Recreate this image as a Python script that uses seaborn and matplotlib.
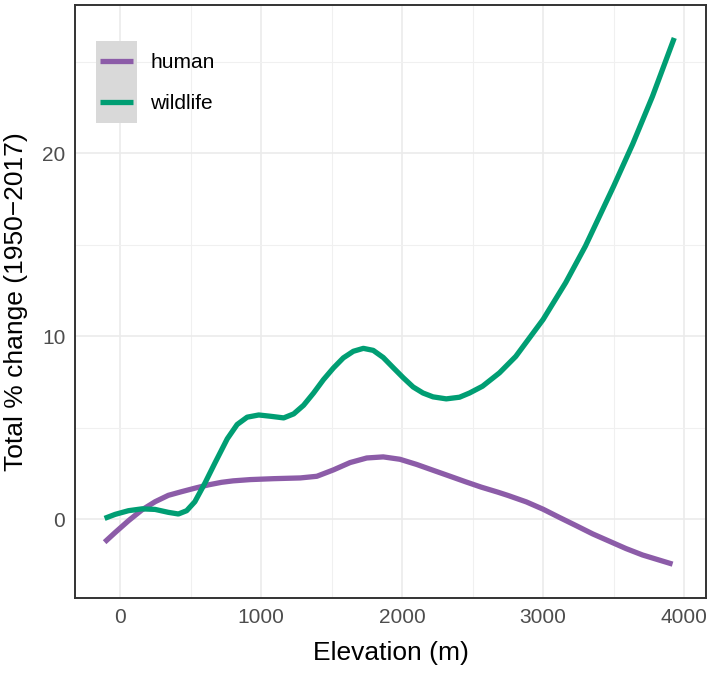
import matplotlib
matplotlib.use("Agg")
import matplotlib.pyplot as plt
from matplotlib.patches import Rectangle
from matplotlib.lines import Line2D
from matplotlib.legend_handler import HandlerBase
from matplotlib.ticker import MultipleLocator
import pandas as pd
import seaborn as sns

# ---- data ----
human_x = [-110, -35, 59, 154, 248, 342, 436, 530, 625, 719, 801, 924, 1089,
           1278, 1395, 1513, 1631, 1749, 1866, 1984, 2102, 2219, 2337, 2450,
           2560, 2680, 2752, 2881, 3000, 3116, 3235, 3352, 3470, 3588, 3705,
           3820, 3918]
human_y = [-1.25, -0.72, -0.08, 0.51, 0.96, 1.31, 1.51, 1.70, 1.88, 2.02, 2.10,
           2.17, 2.22, 2.26, 2.35, 2.70, 3.10, 3.35, 3.41, 3.28, 3.00, 2.68,
           2.36, 2.05, 1.76, 1.48, 1.30, 0.95, 0.55, 0.10, -0.35, -0.80, -1.20,
           -1.60, -1.95, -2.22, -2.45]

wild_x = [-110, -35, 59, 154, 248, 342, 413, 472, 530, 601, 672, 760, 830, 901,
          983, 1066, 1160, 1231, 1301, 1372, 1442, 1513, 1583, 1654, 1725, 1795,
          1866, 1936, 2007, 2078, 2148, 2219, 2313, 2407, 2478, 2570, 2690, 2806,
          3000, 3160, 3300, 3500, 3635, 3775, 3930]
wild_y = [0.05, 0.27, 0.47, 0.57, 0.54, 0.38, 0.29, 0.47, 0.96, 1.97, 3.07, 4.40,
          5.18, 5.58, 5.70, 5.63, 5.54, 5.76, 6.23, 6.90, 7.63, 8.27, 8.82, 9.18,
          9.34, 9.23, 8.84, 8.29, 7.74, 7.23, 6.90, 6.69, 6.58, 6.67, 6.90, 7.27,
          8.00, 8.90, 10.92, 12.93, 14.93, 18.20, 20.50, 23.10, 26.30]

groups = ["human", "wildlife"]
colors = {"human": "#8C5CA8", "wildlife": "#009E73"}
LW = 3.8

df = pd.concat([
    pd.DataFrame({"elev": human_x, "change": human_y, "group": "human"}),
    pd.DataFrame({"elev": wild_x, "change": wild_y, "group": "wildlife"}),
], ignore_index=True)

sns.set_style("white")
plt.rcParams["font.family"] = ["Liberation Sans", "DejaVu Sans"]

W, H = 709, 677
fig = plt.figure(figsize=(W / 100, H / 100), dpi=100)
ax = fig.add_axes([75 / W, 1 - 598 / H, (706 - 75) / W, (598 - 5) / H])

ax.set_xlim(-320, 4155)
ax.set_ylim(-4.3, 28.1)
ax.xaxis.set_major_locator(MultipleLocator(1000))
ax.xaxis.set_minor_locator(MultipleLocator(500))
ax.yaxis.set_major_locator(MultipleLocator(10))
ax.yaxis.set_minor_locator(MultipleLocator(5))
ax.grid(True, which="major", color="#EBEBEB", lw=1.2)
ax.grid(True, which="minor", color="#F0F0F0", lw=0.8)
ax.set_axisbelow(True)

sns.lineplot(data=df, x="elev", y="change", hue="group", palette=colors,
             estimator=None, sort=True, lw=LW, ax=ax, legend=False)
for ln in ax.get_lines():
    ln.set_solid_capstyle("butt")
    ln.set_solid_joinstyle("round")

for s in ax.spines.values():
    s.set_color("#333333")
    s.set_linewidth(1.4)
    s.set_visible(True)

ax.tick_params(axis="both", which="major", direction="out", length=4, width=1.0,
               color="#333333", labelcolor="#4D4D4D", labelsize=15, pad=3)
ax.tick_params(axis="both", which="minor", length=0)
ax.set_xlabel("Elevation (m)", fontsize=19, color="black", labelpad=10)
ax.set_ylabel("Total % change (1950\u22122017)", fontsize=19, color="black", labelpad=10)


class KeyHandler(HandlerBase):
    def create_artists(self, legend, orig_handle, xdescent, ydescent, width,
                       height, fontsize, trans):
        rect = Rectangle((-xdescent, -ydescent), width, height,
                         facecolor="#D9D9D9", edgecolor="none", transform=trans)
        y = -ydescent + height / 2
        x0 = -xdescent + 0.1 * width
        x1 = -xdescent + 0.9 * width
        ln = Line2D([x0, x1], [y, y], color=orig_handle.get_color(), lw=LW,
                    solid_capstyle="butt", transform=trans)
        return [rect, ln]


handles = [Line2D([], [], color=colors[g], lw=LW) for g in groups]
leg = ax.legend(handles, groups, handler_map={Line2D: KeyHandler()},
                loc="upper left", bbox_to_anchor=((95.7 - 75) / 631, 1 - (40.7 - 5) / 593),
                frameon=False, fontsize=15, borderpad=0, borderaxespad=0,
                handlelength=1.97, handleheight=2.655, labelspacing=0, handletextpad=0.64)
for t in leg.get_texts():
    t.set_color("black")

fig.savefig("out.png", dpi=100)
